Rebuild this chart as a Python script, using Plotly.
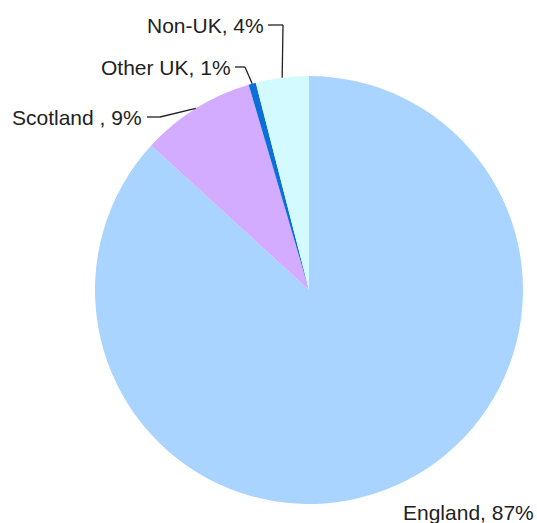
import math
import plotly.graph_objects as go

# Data
labels = ["England", "Scotland ", "Other UK", "Non-UK"]
values = [86.8, 8.65, 0.55, 4.0]
colors = ["#a9d4ff", "#d4acff", "#0a6fd8", "#d3fbff"]

W, H = 537, 523
ML, MR, MT, MB = 95, 14, 76, 19
PW, PH = W - ML - MR, H - MT - MB
R = min(PW, PH) / 2
CX, CY = ML + PW / 2, MT + PH / 2


def px(x):
    return (x - ML) / PW


def py(y):
    return (H - MB - y) / PH


total = sum(values)
mids = []
cum = 0
for v in values:
    mids.append((cum + v / 2) / total * 360)
    cum += v


def edge(i):
    t = math.radians(mids[i])
    return CX + R * math.sin(t), CY - R * math.cos(t)


fig = go.Figure(go.Pie(
    labels=labels, values=values, sort=False, direction="clockwise",
    rotation=0, textinfo="none", showlegend=False,
    marker=dict(colors=colors, line=dict(width=0)),
))

# label layout: (text right x, text y, elbow points) in pixels
label_layout = {
    0: (536, 512, None),
    1: (144, 117, [(147, 117), (160, 117)]),
    2: (233, 67, [(235, 67), (245, 67)]),
    3: (266, 25, [(268, 25), (283, 25)]),
}

shapes = []
annotations = []
for i, lab in enumerate(labels):
    pct = round(values[i] / total * 100)
    tx, ty, pts = label_layout[i]
    annotations.append(dict(
        x=px(tx), y=py(ty), xref="paper", yref="paper",
        text=f"{lab}, {pct}%", showarrow=False, xanchor="right", yanchor="middle",
        font=dict(family="Liberation Sans, Arial", size=21, color="#222222"),
    ))
    if pts:
        path_pts = pts + [edge(i)]
        for (x0, y0), (x1, y1) in zip(path_pts[:-1], path_pts[1:]):
            shapes.append(dict(type="line", xref="paper", yref="paper",
                               x0=px(x0), y0=py(y0), x1=px(x1), y1=py(y1),
                               line=dict(color="#222222", width=1.3)))

fig.update_layout(
    width=W, height=H, margin=dict(l=ML, r=MR, t=MT, b=MB),
    paper_bgcolor="white", plot_bgcolor="white",
    shapes=shapes, annotations=annotations,
)

fig.write_html("out.html")
